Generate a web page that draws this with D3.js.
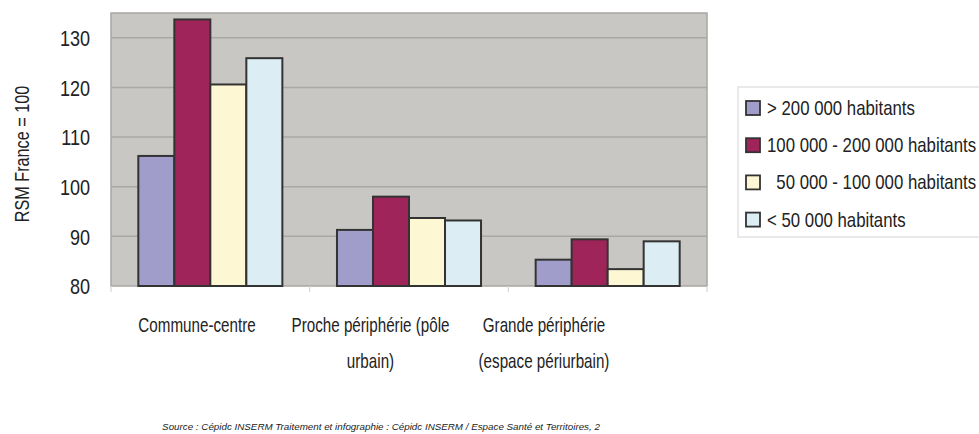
<!DOCTYPE html>
<html>
<head>
<meta charset="utf-8">
<script src="https://cdn.jsdelivr.net/npm/d3@7"></script>
<style>
	body { margin: 0; background: #fff; }
	text { font-family: "Liberation Sans", Arial, sans-serif; fill: #222; }
</style>
</head>
<body>
<svg id="chart" width="979" height="434"></svg>
<script>
/* jshint esversion: 6 */

// data
var categories = ["Commune-centre", "Proche périphérie (pôle urbain)", "Grande périphérie (espace périurbain)"];
var categoryLines = [["Commune-centre"], ["Proche périphérie (pôle", "urbain)"], ["Grande périphérie", "(espace périurbain)"]];
var seriesNames = ["> 200 000 habitants", "100 000 - 200 000 habitants", "  50 000 - 100 000 habitants", "< 50 000 habitants"];
var seriesColors = ["#a09dca", "#9e2459", "#fdf7d4", "#dcedf4"];
var over200k = [106.2, 91.3, 85.3];
var from100kTo200k = [133.7, 98.0, 89.4];
var from50kTo100k = [120.6, 93.7, 83.4];
var under50k = [125.9, 93.2, 89.0];
var yTicks = [80, 90, 100, 110, 120, 130];
var sourceText = "Source : Cépidc INSERM Traitement et infographie : Cépidc INSERM / Espace Santé et Territoires, 2";

var series = [over200k, from100kTo200k, from50kTo100k, under50k];

var svg = d3.select("#chart");
var plot = {left: 111, top: 13, right: 707, bottom: 286};

var x0 = d3.scaleBand().domain(categories)
		.range([plot.left, plot.right])
		.paddingInner(0.275).paddingOuter(0.1375);
var x1 = d3.scaleBand().domain(d3.range(series.length))
		.range([0, x0.bandwidth()]);
var y = d3.scaleLinear().domain([80, 135]).range([plot.bottom, plot.top]);
// category labels sit left of the group centres in the original
var labelX = d3.scalePoint().domain(categories).range([197, 544]);

// the original type is a narrow face: squeeze horizontally
function narrow(sx) {
	return function(sel) {
		sel.each(function() {
			let t = d3.select(this);
			let x = +t.attr("x") || 0, yy = +t.attr("y") || 0;
			t.attr("x", 0).attr("y", 0)
				.attr("transform", "translate(" + x + "," + yy + ") scale(" + sx + ",1)");
		});
	};
}

// plot background
svg.append("rect")
	.attr("x", plot.left).attr("y", plot.top)
	.attr("width", plot.right - plot.left).attr("height", plot.bottom - plot.top)
	.attr("fill", "#c9c7c4").attr("stroke", "#a8a6a3").attr("stroke-width", 1.5);

// gridlines
svg.append("g").selectAll("line").data(yTicks.slice(1)).enter().append("line")
	.attr("x1", plot.left).attr("x2", plot.right)
	.attr("y1", d => y(d)).attr("y2", d => y(d))
	.attr("stroke", "#aaa8a5").attr("stroke-width", 1.5);

// y axis labels
var yAxis = d3.axisLeft(y).tickValues(yTicks).tickSize(0).tickPadding(21);
var yg = svg.append("g").attr("transform", "translate(" + plot.left + ",0)").call(yAxis);
yg.select(".domain").remove();
yg.selectAll("text").style("font-size", "22px").attr("fill", "#222")
	.style("font-family", "'Liberation Sans', Arial, sans-serif")
	.attr("dy", "0.35em")
	.call(narrow(0.82));

// small tick marks under the x axis
var xEdges = categories.map(c => x0(c) - x0.step() * x0.paddingOuter()).concat([plot.right]);
svg.append("g").selectAll("line").data(xEdges).enter().append("line")
	.attr("x1", d => d).attr("x2", d => d)
	.attr("y1", plot.bottom).attr("y2", plot.bottom + 6)
	.attr("stroke", "#d6d6d6").attr("stroke-width", 1.2);

// bars
var groups = svg.append("g").selectAll("g").data(categories).enter().append("g")
	.attr("transform", d => "translate(" + x0(d) + ",0)");

groups.selectAll("rect")
	.data((c, ci) => series.map((s, si) => ({si: si, v: s[ci]})))
	.enter().append("rect")
	.attr("x", d => x1(d.si))
	.attr("y", d => y(d.v))
	.attr("width", x1.bandwidth())
	.attr("height", d => y(80) - y(d.v))
	.attr("fill", d => seriesColors[d.si])
	.attr("stroke", "#333")
	.attr("stroke-width", 2);

// category labels
var cl = svg.append("g").selectAll("text").data(categories).enter().append("text")
	.attr("x", d => labelX(d))
	.attr("y", 332)
	.attr("text-anchor", "middle")
	.style("font-size", "20px");
cl.selectAll("tspan").data((d, i) => categoryLines[i]).enter().append("tspan")
	.attr("x", 0)
	.attr("dy", (d, i) => i === 0 ? 0 : 36)
	.text(d => d);
cl.call(narrow(0.76));

// y title
svg.append("text")
	.attr("transform", "translate(29,154) rotate(-90) scale(0.81,1)")
	.attr("text-anchor", "middle")
	.style("font-size", "20px")
	.text("RSM France = 100");

// legend
var legend = svg.append("g");
legend.append("rect")
	.attr("x", 738).attr("y", 87).attr("width", 260).attr("height", 150)
	.attr("fill", "#fff").attr("stroke", "#d4d4d4").attr("stroke-width", 1);

var items = legend.selectAll("g").data(seriesNames).enter().append("g")
	.attr("transform", (d, i) => "translate(746," + (108 + i * 37.2) + ")");
items.append("rect")
	.attr("x", 0).attr("y", -7).attr("width", 14).attr("height", 14)
	.attr("fill", (d, i) => seriesColors[i])
	.attr("stroke", "#333").attr("stroke-width", 1.8);
items.append("text")
	.attr("x", 21).attr("y", 7)
	.style("font-size", "20px")
	.style("white-space", "pre")
	.attr("xml:space", "preserve")
	.text(d => d)
	.call(narrow(0.84));

// source line
svg.append("text")
	.attr("x", 381).attr("y", 430)
	.attr("text-anchor", "middle")
	.style("font-size", "9.8px")
	.style("font-style", "italic")
	.attr("fill", "#333")
	.text(sourceText);
</script>
</body>
</html>
